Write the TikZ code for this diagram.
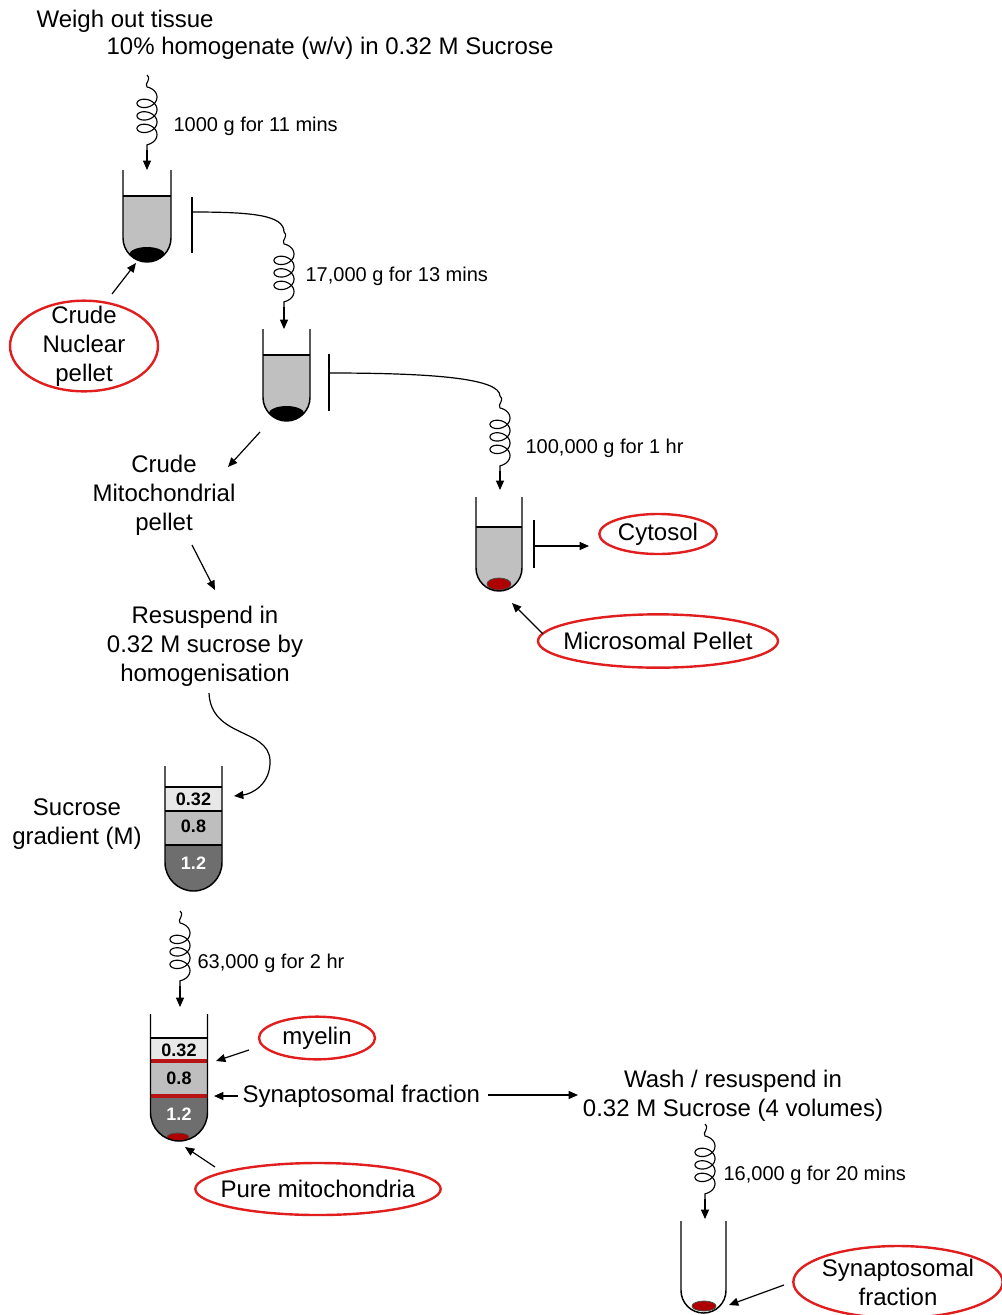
\documentclass[tikz,border=0pt]{standalone}
\usepackage{fontspec}
\setmainfont{Liberation Sans}
\usetikzlibrary{shapes.geometric,arrows.meta}
\definecolor{ovalred}{RGB}{225,30,30}
\definecolor{pelletred}{RGB}{175,0,0}
\definecolor{liq}{RGB}{192,192,192}
\definecolor{layA}{RGB}{232,232,232}
\definecolor{layB}{RGB}{190,190,190}
\definecolor{layC}{RGB}{110,110,110}
\definecolor{bandred}{RGB}{185,20,20}
% tube outline: centre x, top y, bottom y, half width
\newcommand\tubepath[4]{(#1-#4,#2) -- (#1-#4,#3-#4) .. controls (#1-#4,#3-0.45*#4) and (#1-0.55*#4,#3) .. (#1,#3) .. controls (#1+0.55*#4,#3) and (#1+#4,#3-0.45*#4) .. (#1+#4,#3-#4) -- (#1+#4,#2)}
% spring coil: x, top y (75 px long)
\newcommand\springdraw[2]{\draw[coilline] (#1,#2) .. controls (#1+5,#2+5) and (#1-3,#2+8) .. (#1,#2+12) -- plot[domain=0:1260, samples=140, variable=\t] ({#1+10*sin(\t)}, {#2+19+12.5*\t/360-7*cos(\t)}) -- (#1,#2+75);}
\begin{document}
\begin{tikzpicture}[x=0.75pt,y=-0.75pt,
 line width=0.9pt,
 lbl/.style={font=\fontsize{18}{21.75}\selectfont, align=center, inner sep=0pt},
 spl/.style={font=\fontsize{15}{18}\selectfont, anchor=west, inner sep=0pt},
 oval/.style={ellipse, draw=ovalred, line width=1.8pt, inner sep=0pt},
 arr/.style={-{Triangle[length=7pt,width=6pt]}, line width=0.9pt},
 coilline/.style={line width=0.85pt, line join=round},
 num/.style={font=\bfseries\fontsize{13.5}{16}\selectfont, inner sep=0pt},
 tubeline/.style={line width=1.1pt},
 bracket/.style={line width=1.1pt},
]
\useasboundingbox (0,0) rectangle (1002,1315);

% ---------- top text ----------
\node[lbl, anchor=west] (weigh) at (36,21) {Weigh out tissue};
\node[lbl, anchor=west] (homog) at (106,48) {10\% homogenate (w/v) in 0.32 M Sucrose};

% ---------- spring 1 and tube 1 ----------
\springdraw{147}{75}
\coordinate (s1b) at (147,150);
\coordinate (t1) at (147,170);
\draw[arr] (s1b) -- (t1);
\node[spl] (lab1) at (173,126) {1000 g for 11 mins};

\fill[liq] \tubepath{147}{196}{262}{24} -- cycle;
\begin{scope}
\clip \tubepath{147}{170}{262}{24} -- cycle;
\fill[black] (147,255) ellipse [x radius=18, y radius=8];
\end{scope}
\draw[tubeline] (123,196) -- (171,196);
\draw[tubeline] \tubepath{147}{170}{262}{24};
\coordinate (p1) at (136,263);

% crude nuclear pellet
\node[oval, minimum width=111pt, minimum height=68pt] (cnp) at (84,346) {};
\node[lbl] (cnptext) at (cnp) {Crude\\Nuclear\\pellet};
\coordinate (cnpa) at (112,294);
\draw[arr] (cnpa) -- (p1);

% ---------- bracket 1, spring 2, tube 2 ----------
\draw[bracket] (192,197) -- (192,253);
\coordinate (b1) at (192,212);
\coordinate (s2a) at (284,232);
\coordinate (s2b) at (284,307);
\coordinate (t2) at (284,329);
\draw (b1) .. controls (252,212) and (284,215) .. (s2a);
\springdraw{284}{232}
\draw[arr] (s2b) -- (t2);
\node[spl] (lab2) at (305,276) {17,000 g for 13 mins};

\fill[liq] \tubepath{286.5}{355}{421}{23.5} -- cycle;
\begin{scope}
\clip \tubepath{286.5}{329}{421}{23.5} -- cycle;
\fill[black] (286.5,414) ellipse [x radius=18, y radius=8];
\end{scope}
\draw[tubeline] (263,355) -- (310,355);
\draw[tubeline] \tubepath{286.5}{329}{421}{23.5};

% ---------- bracket 2, spring 3, tube 3 ----------
\draw[bracket] (329,354) -- (329,411);
\coordinate (b2) at (329,373);
\coordinate (s3a) at (500,396);
\coordinate (s3b) at (500,471);
\coordinate (t3) at (500,490);
\draw (b2) .. controls (430,373) and (500,378) .. (s3a);
\springdraw{500}{396}
\draw[arr] (s3b) -- (t3);
\node[spl] (lab3) at (525,448) {100,000 g for 1 hr};

\fill[liq] \tubepath{499}{527}{591}{23} -- cycle;
\begin{scope}
\clip \tubepath{499}{497}{591}{23} -- cycle;
\filldraw[fill=pelletred, draw=black!70, line width=0.6pt] (499,584) ellipse [x radius=12, y radius=6];
\end{scope}
\draw[tubeline] (476,527) -- (522,527);
\draw[tubeline] \tubepath{499}{497}{591}{23};

% cytosol
\draw[bracket] (534,520) -- (534,568);
\coordinate (b3) at (534,546);
\node[oval, minimum width=88pt, minimum height=30pt] (cyto) at (658,534) {};
\node[lbl] (cytotext) at (cyto) {Cytosol};
\coordinate (cytoin) at (589,546);
\draw[arr] (b3) -- (cytoin);

% microsomal pellet
\node[oval, minimum width=180pt, minimum height=40pt] (micro) at (658,641) {};
\node[lbl] (microtext) at (micro) {Microsomal Pellet};
\coordinate (microa) at (543,634);
\coordinate (p3) at (512,603);
\draw[arr] (microa) -- (p3);

% ---------- crude mitochondrial pellet ----------
\coordinate (m1a) at (260,432);
\coordinate (m1b) at (228,467);
\draw[arr] (m1a) -- (m1b);
\node[lbl] (cmp) at (164,495) {Crude\\Mitochondrial\\pellet};
\coordinate (m2a) at (192,545);
\coordinate (m2b) at (215,590);
\draw[arr] (m2a) -- (m2b);
\node[lbl] (resus) at (205,646) {Resuspend in\\0.32 M sucrose by\\homogenisation};

% curve to gradient
\coordinate (c1a) at (209,693);
\coordinate (c1b) at (234,796);
\draw[arr] (c1a) .. controls (211,738) and (268,728) .. (270,760) .. controls (271,784) and (252,794) .. (c1b);

% ---------- gradient tube 1 ----------
\fill[layA] \tubepath{193.5}{787}{891}{28.5} -- cycle;
\fill[layB] \tubepath{193.5}{811}{891}{28.5} -- cycle;
\fill[layC] \tubepath{193.5}{845}{891}{28.5} -- cycle;
\draw[tubeline] (165,787) -- (222,787);
\draw[tubeline] (165,811) -- (222,811);
\draw[tubeline] (165,845) -- (222,845);
\draw[tubeline] \tubepath{193.5}{766}{891}{28.5};
\node[num] (g1a) at (193.5,799) {0.32};
\node[num] (g1b) at (193.5,826) {0.8};
\node[num, text=white] (g1c) at (193.5,863) {1.2};
\node[lbl] (sgrad) at (77,824) {Sucrose\\gradient (M)};

% ---------- spring 4 ----------
\springdraw{180}{911}
\coordinate (s4b) at (180,986);
\coordinate (t4) at (180,1007);
\draw[arr] (s4b) -- (t4);
\node[spl] (lab4) at (197,963) {63,000 g for 2 hr};

% ---------- gradient tube 2 ----------
\fill[layA] \tubepath{179}{1038}{1141}{28.5} -- cycle;
\fill[layB] \tubepath{179}{1061}{1141}{28.5} -- cycle;
\fill[layC] \tubepath{179}{1096}{1141}{28.5} -- cycle;
\begin{scope}
\clip \tubepath{179}{1014}{1141}{28.5} -- cycle;
\filldraw[fill=pelletred, draw=black!70, line width=0.6pt] (178,1137) ellipse [x radius=11, y radius=4];
\end{scope}
\draw[tubeline] (150.5,1038) -- (207.5,1038);
\draw[bandred, line width=2.8pt] (150.5,1061) -- (207.5,1061);
\draw[bandred, line width=2.8pt] (150.5,1096) -- (207.5,1096);
\draw[tubeline] \tubepath{179}{1014}{1141}{28.5};
\node[num] (g2a) at (179,1050) {0.32};
\node[num] (g2b) at (179,1078) {0.8};
\node[num, text=white] (g2c) at (179,1114) {1.2};

% myelin
\node[oval, minimum width=87pt, minimum height=32pt] (myel) at (317,1038) {};
\node[lbl] (myeltext) at (myel) {myelin};
\coordinate (mya) at (249,1050);
\coordinate (myb) at (216,1061);
\draw[arr] (mya) -- (myb);

% synaptosomal fraction
\node[lbl, anchor=west] (synfr) at (242,1096) {Synaptosomal fraction};
\coordinate (sfb) at (214,1096);
\draw[arr] ([xshift=-3pt]synfr.west) -- (sfb);
\coordinate (sfc) at (488,1095);
\coordinate (sfd) at (578,1095);
\draw[arr] (sfc) -- (sfd);

% pure mitochondria
\node[oval, minimum width=184pt, minimum height=39pt] (pure) at (318,1189) {};
\node[lbl] (puretext) at (pure) {Pure mitochondria};
\coordinate (pma) at (215,1167);
\coordinate (pmb) at (185,1147);
\draw[arr] (pma) -- (pmb);

% ---------- wash ----------
\node[lbl] (wash) at (733,1096) {Wash / resuspend in\\0.32 M Sucrose (4 volumes)};
\springdraw{705}{1124}
\coordinate (s5b) at (705,1199);
\coordinate (t5) at (705,1219);
\draw[arr] (s5b) -- (t5);
\node[spl] (lab5) at (723,1175) {16,000 g for 20 mins};

% final tube
\begin{scope}
\clip \tubepath{703.5}{1221}{1313}{22.5} -- cycle;
\filldraw[fill=pelletred, draw=black!70, line width=0.6pt] (704,1306) ellipse [x radius=12, y radius=5];
\end{scope}
\draw[tubeline] \tubepath{703.5}{1221}{1313}{22.5};

% synaptosomal fraction oval
\node[oval, minimum width=157pt, minimum height=54pt] (synov) at (898,1282) {};
\node[lbl] (synovtext) at (synov) {Synaptosomal\\fraction};
\coordinate (soa) at (784,1285);
\coordinate (sob) at (729,1305);
\draw[arr] (soa) -- (sob);
\end{tikzpicture}
\end{document}
